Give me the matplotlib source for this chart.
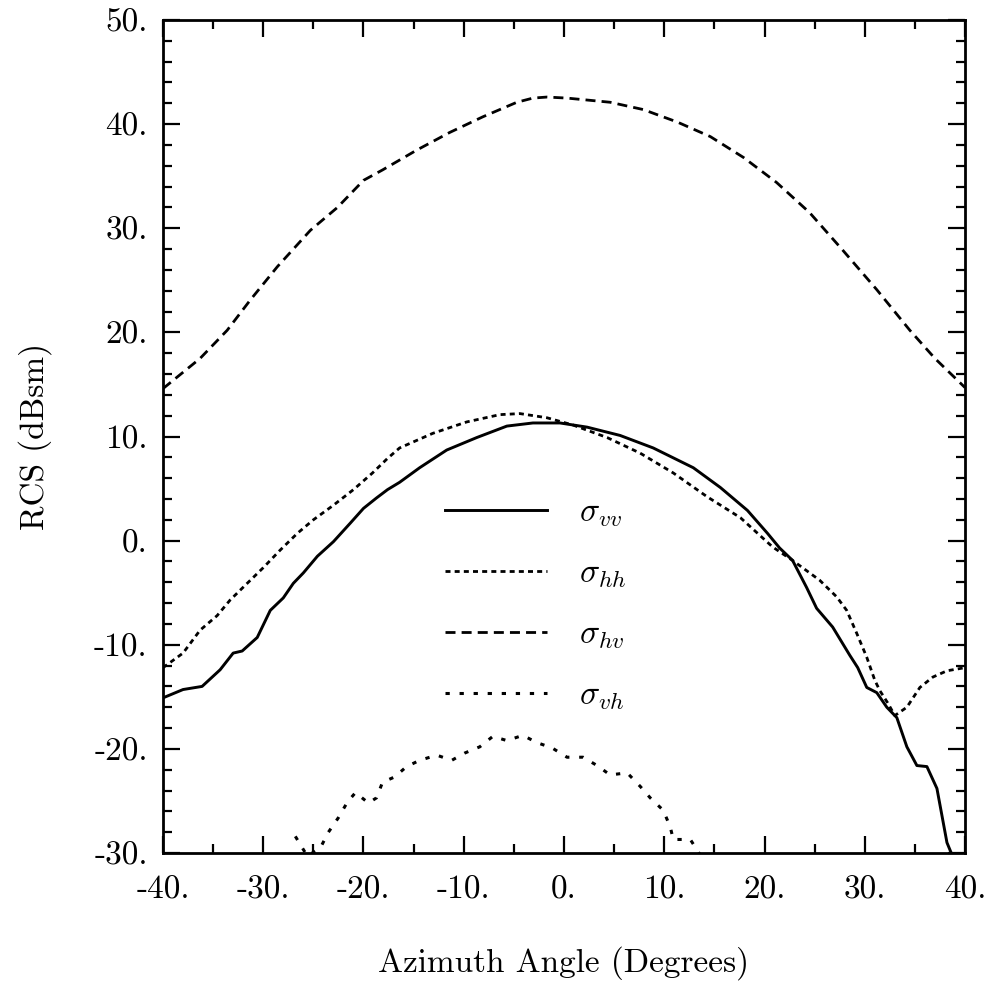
import numpy as np
import matplotlib
matplotlib.use("Agg")
import matplotlib.pyplot as plt
from matplotlib.ticker import MultipleLocator, FuncFormatter

# values (azimuth in degrees, RCS in dBsm)
az_vv = [-40.0, -38.0, -36.1, -34.3, -33.0, -32.1, -30.6, -29.3, -28.0, -27.0, -26.0,
         -24.6, -23.0, -21.3, -20.0, -18.7, -17.6, -16.4, -14.4, -11.7, -8.7, -5.7,
         -3.1, -0.4, 2.3, 5.6, 8.9, 12.9, 15.6, 18.3, 20.3, 21.5, 22.8, 24.2, 25.2,
         26.8, 28.5, 29.3, 30.2, 31.2, 32.2, 33.2, 34.2, 35.2, 36.2, 37.2, 38.2, 38.8]
rcs_vv = [-15.1, -14.3, -14.0, -12.4, -10.8, -10.6, -9.3, -6.7, -5.5, -4.1, -3.1,
          -1.5, -0.1, 1.7, 3.1, 4.1, 4.9, 5.6, 7.0, 8.7, 9.9, 11.0,
          11.3, 11.3, 10.9, 10.1, 8.9, 7.0, 5.1, 2.9, 0.7, -0.7, -1.9, -4.5, -6.5,
          -8.3, -11.0, -12.2, -14.1, -14.6, -16.0, -17.0, -19.8, -21.6, -21.7, -23.8, -29.0, -30.4]

az_hh = [-40.0, -38.0, -36.3, -34.6, -33.3, -31.6, -30.0, -28.3, -26.6, -25.0, -23.0,
         -21.0, -19.1, -17.6, -16.4, -13.1, -9.7, -6.4, -4.4, -1.7, 0.9, 4.3, 7.6,
         10.9, 14.3, 17.6, 20.8, 22.8, 25.5, 27.2, 28.2, 29.2, 30.2, 31.0, 31.5,
         32.3, 33.0, 34.2, 35.5, 36.8, 38.2, 40.0]
rcs_hh = [-12.2, -10.8, -8.6, -7.2, -5.7, -4.1, -2.6, -0.9, 0.7, 2.0, 3.4,
          4.9, 6.5, 7.9, 8.9, 10.3, 11.4, 12.1, 12.2, 11.8, 11.1, 9.9, 8.4,
          6.5, 4.2, 2.2, -0.6, -1.9, -3.8, -5.4, -6.7, -8.9, -11.2, -13.4, -14.4,
          -15.6, -16.8, -16.0, -14.1, -13.1, -12.5, -12.2]

az_hv = [-40.0, -36.3, -33.6, -31.3, -28.6, -25.3, -22.6, -20.0, -18.1, -14.7, -11.4,
         -8.1, -4.7, -3.1, -1.7, 0.3, 4.6, 7.9, 11.3, 14.6, 17.9, 21.2, 24.5, 27.8,
         31.2, 34.5, 37.0, 40.0]
rcs_hv = [14.6, 17.5, 20.2, 23.1, 26.3, 29.8, 32.0, 34.6, 35.6, 37.5, 39.2,
          40.7, 42.1, 42.5, 42.6, 42.5, 42.1, 41.4, 40.2, 38.8, 36.8, 34.4, 31.5, 27.9,
          24.1, 20.2, 17.5, 14.7]

az_vh = [-26.8, -25.6, -24.3, -23.5, -22.5, -21.6, -20.8, -19.5, -18.7, -18.1, -16.9,
         -15.7, -14.4, -12.7, -11.2, -9.9, -8.4, -7.1, -5.7, -4.1, -2.7, -1.2, 0.3,
         1.9, 3.3, 4.6, 6.3, 7.6, 8.6, 9.9, 10.6, 10.9, 11.6, 12.6, 13.6]
rcs_vh = [-28.4, -30.3, -29.5, -28.0, -26.6, -25.1, -24.2, -25.2, -24.7, -23.2, -22.7,
          -21.7, -21.1, -20.6, -21.1, -20.4, -19.8, -18.8, -19.2, -18.7, -19.4, -19.9, -20.8,
          -20.8, -21.6, -22.5, -22.3, -23.6, -24.7, -25.9, -27.5, -28.7, -28.7, -28.7, -30.2]

labels = [r"$\sigma_{vv}$", r"$\sigma_{hh}$", r"$\sigma_{hv}$", r"$\sigma_{vh}$"]

plt.rcParams["font.family"] = "cmr10"
plt.rcParams["mathtext.fontset"] = "cm"
plt.rcParams["axes.unicode_minus"] = False

fig = plt.figure(figsize=(10, 9.85), dpi=100)
ax = fig.add_axes([0.163, 0.134, 0.802, 0.8457])

ax.plot(az_vv, rcs_vv, color="black", lw=2.1, ls="-", label=labels[0])
ax.plot(az_hh, rcs_hh, color="black", lw=2.0, ls=(0, (1.8, 1.5)), label=labels[1])
ax.plot(az_hv, rcs_hv, color="black", lw=2.0, ls=(0, (3.6, 2.2)), label=labels[2])
ax.plot(az_vh, rcs_vh, color="black", lw=2.2, ls=(0, (1.4, 3.2)), label=labels[3])

ax.set_xlim(-40, 40)
ax.set_ylim(-30, 50)
ax.xaxis.set_major_locator(MultipleLocator(10))
ax.xaxis.set_minor_locator(MultipleLocator(5))
ax.yaxis.set_major_locator(MultipleLocator(10))
ax.yaxis.set_minor_locator(MultipleLocator(2))
fmt = FuncFormatter(lambda v, p: f"{v:.0f}.")
ax.xaxis.set_major_formatter(fmt)
ax.yaxis.set_major_formatter(fmt)

ax.tick_params(which="both", direction="in", top=True, right=True, width=1.6)
ax.tick_params(which="major", length=12, labelsize=24)
ax.tick_params(axis="x", which="major", pad=16)
ax.tick_params(axis="y", which="major", pad=11)
ax.tick_params(which="minor", length=6.5)
for s in ax.spines.values():
    s.set_linewidth(2.0)

ax.set_xlabel("Azimuth Angle (Degrees)", fontsize=24, labelpad=30)
ax.set_ylabel("RCS (dBsm)", fontsize=24, labelpad=30)

ax.legend(loc="upper left", bbox_to_anchor=(0.352, 0.426), frameon=False,
          fontsize=24, handlelength=3.05, handletextpad=0.95, labelspacing=0.9,
          borderpad=0, borderaxespad=0)

fig.savefig("out.png", dpi=100)
